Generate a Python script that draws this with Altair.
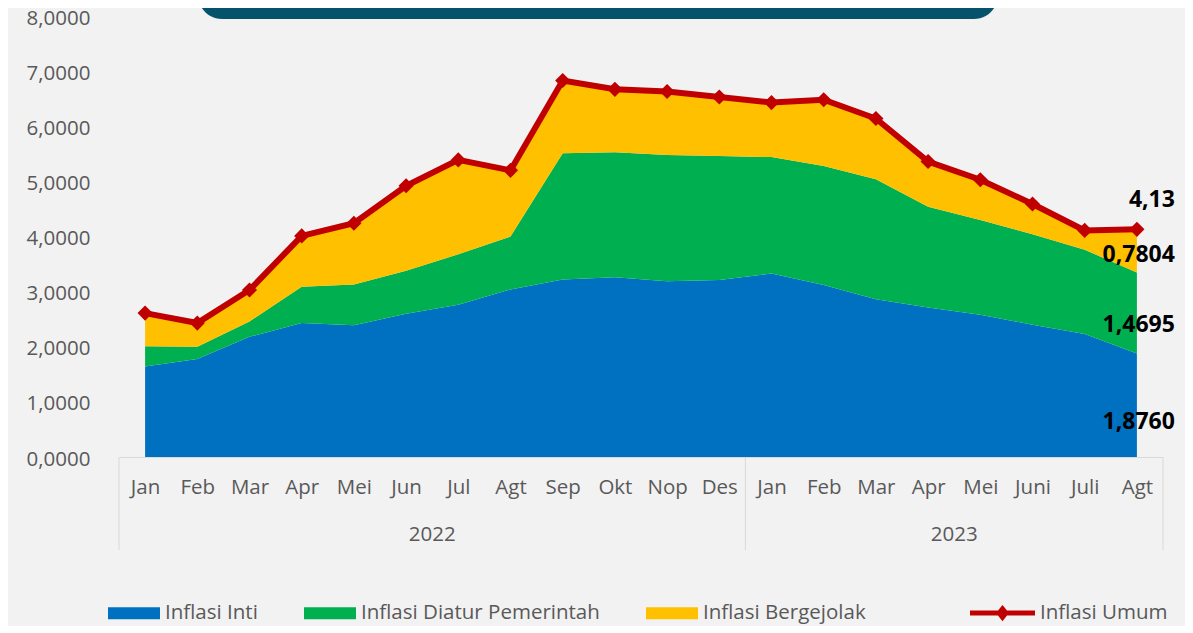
import json
import altair as alt
import pandas as pd

# ---- data ----
months = ["Jan", "Feb", "Mar", "Apr", "Mei", "Jun", "Jul", "Agt", "Sep", "Okt", "Nop", "Des",
          "Jan", "Feb", "Mar", "Apr", "Mei", "Juni", "Juli", "Agt"]
year_names = ["2022", "2023"]
year_counts = [12, 8]

inti = [1.64, 1.78, 2.18, 2.43, 2.39, 2.60, 2.76, 3.04, 3.22, 3.26, 3.19, 3.21,
        3.33, 3.12, 2.86, 2.71, 2.58, 2.40, 2.23, 1.8760]
diatur = [0.37, 0.22, 0.28, 0.66, 0.74, 0.78, 0.92, 0.96, 2.29, 2.27, 2.29, 2.25,
          2.11, 2.16, 2.18, 1.83, 1.72, 1.64, 1.53, 1.4695]
bergejolak = [0.60, 0.43, 0.57, 0.92, 1.11, 1.54, 1.71, 1.20, 1.32, 1.14, 1.15, 1.07,
              0.99, 1.20, 1.10, 0.82, 0.73, 0.55, 0.35, 0.7804]
umum = [2.61, 2.43, 3.03, 4.01, 4.24, 4.92, 5.39, 5.20, 6.83, 6.67, 6.63, 6.53,
        6.43, 6.48, 6.14, 5.36, 5.03, 4.59, 4.11, 4.13]

series_names = ["Inflasi Inti", "Inflasi Diatur Pemerintah", "Inflasi Bergejolak"]
line_name = "Inflasi Umum"
y_ticks = [0, 1, 2, 3, 4, 5, 6, 7, 8]

# ---- styles ----
area_colors = ["#0070C0", "#00B050", "#FFC000"]
line_color = "#C00000"
text_gray = "#595959"
axis_gray = "#D9D9D9"
FONT = "Open Sans"
FS = 20.5

W, H = 1044, 441

# ---- tables ----
n = len(months)
rows = []
for k, (name, vals) in enumerate(zip(series_names, [inti, diatur, bergejolak])):
    for i, v in enumerate(vals):
        rows.append({"idx": i, "series": name, "value": v, "ord": k})
df_area = pd.DataFrame(rows)
df_line = pd.DataFrame({"idx": list(range(n)), "umum": umum, "name": line_name})

sep_pos = [-0.5]
centers = []
start = 0
for c in year_counts:
    centers.append(start + (c - 1) / 2)
    start += c
    sep_pos.append(start - 0.5)
df_sep = pd.DataFrame({"x": sep_pos})
df_year = pd.DataFrame({"x": centers, "year": year_names})

last = n - 1
def fmt(v, d):
    return f"{v:.{d}f}".replace(".", ",")

label_specs = [
    (umum[last], fmt(umum[last], 2), -29),
    (inti[last] + diatur[last] + bergejolak[last] / 2, fmt(bergejolak[last], 4), 4),
    (inti[last] + diatur[last] / 2, fmt(diatur[last], 4), 12),
    (inti[last] / 2, fmt(inti[last], 4), 17),
]

# ---- scales / axes ----
xscale = alt.Scale(domain=[-0.5, n - 0.5], nice=False, zero=False)
yscale = alt.Scale(domain=[0, 8], nice=False)

xaxis = alt.Axis(values=list(range(n)), labelExpr=f"{json.dumps(months)}[datum.value]",
                 domainColor=axis_gray, domainWidth=1, ticks=False, tickSize=0, grid=False,
                 labelPadding=20, labelFont=FONT, labelFontSize=FS, labelColor=text_gray,
                 labelFlush=False, labelOverlap=False, title=None)
yaxis = alt.Axis(values=y_ticks, labelExpr="replace(format(datum.value, '.4f'), '.', ',')",
                 domain=False, ticks=False, tickSize=0, grid=False, labelPadding=29,
                 labelOffset=2, labelFont=FONT, labelFontSize=FS, labelColor=text_gray,
                 title=None)

fill_legend = alt.Legend(orient="none", legendX=-11, legendY=571, direction="horizontal",
                         title=None, symbolType="M-1,-0.23L1,-0.23L1,0.23L-1,0.23Z",
                         symbolSize=2704, symbolStrokeWidth=0, symbolOpacity=1,
                         labelFont=FONT, labelFontSize=FS, labelColor=text_gray,
                         labelLimit=0, labelOffset=5, columnPadding=46, padding=0)
stroke_legend = alt.Legend(orient="none", legendX=851, legendY=564.5, direction="horizontal",
                           title=None,
                           symbolType="M-1,-0.077L1,-0.077L1,0.077L-1,0.077Z M0,-0.25L0.2,0L0,0.25L-0.2,0Z",
                           symbolSize=4225, symbolStrokeWidth=0, symbolFillColor=line_color,
                           symbolOpacity=1, labelFont=FONT, labelFontSize=FS, labelLimit=0,
                           labelColor=text_gray, labelOffset=5, padding=0)

# ---- layers ----
title_box = alt.Chart(pd.DataFrame({"a": [0]})).mark_rect(
    color="#05536A", cornerRadius=24).encode(
    x=alt.value(79), x2=alt.value(879), y=alt.value(-70), y2=alt.value(3))

area = alt.Chart(df_area).mark_area(opacity=1).encode(
    x=alt.X("idx:Q", scale=xscale, axis=xaxis),
    y=alt.Y("value:Q", stack="zero", scale=yscale, axis=yaxis),
    fill=alt.Fill("series:N", scale=alt.Scale(domain=series_names, range=area_colors),
                  legend=fill_legend),
    order=alt.Order("ord:Q"),
)

line = alt.Chart(df_line).mark_line(
    strokeWidth=6,
    point=alt.OverlayMarkDef(shape="diamond", filled=True, size=230, color=line_color,
                             strokeWidth=0),
).encode(
    x=alt.X("idx:Q", scale=xscale),
    y=alt.Y("umum:Q", scale=yscale),
    stroke=alt.Stroke("name:N", scale=alt.Scale(domain=[line_name], range=[line_color]),
                      legend=stroke_legend),
)

seps = alt.Chart(df_sep).mark_rule(color=axis_gray, strokeWidth=1).encode(
    x=alt.X("x:Q", scale=xscale), y=alt.value(H), y2=alt.value(H + 93))

years = alt.Chart(df_year).mark_text(
    font=FONT, fontSize=FS, color=text_gray, baseline="middle").encode(
    x=alt.X("x:Q", scale=xscale), y=alt.value(H + 78), text="year:N")

label_layers = []
for ypos, txt, dy in label_specs:
    d = pd.DataFrame({"idx": [last], "y": [ypos], "t": [txt]})
    label_layers.append(
        alt.Chart(d).mark_text(font=FONT, fontSize=23, fontWeight="bold", color="black",
                               align="right", baseline="middle", dx=38, dy=dy).encode(
            x=alt.X("idx:Q", scale=xscale), y=alt.Y("y:Q", scale=yscale), text="t:N"))

chart = alt.layer(title_box, area, line, seps, years, *label_layers).properties(
    width=W, height=H,
    autosize=alt.AutoSizeParams(type="none"),
    padding={"left": 111, "top": 8, "right": 22, "bottom": 169},
    background="#F2F2F2",
).configure_view(stroke=None)

chart.save("out.html", embed_options={"renderer": "svg", "actions": False})
